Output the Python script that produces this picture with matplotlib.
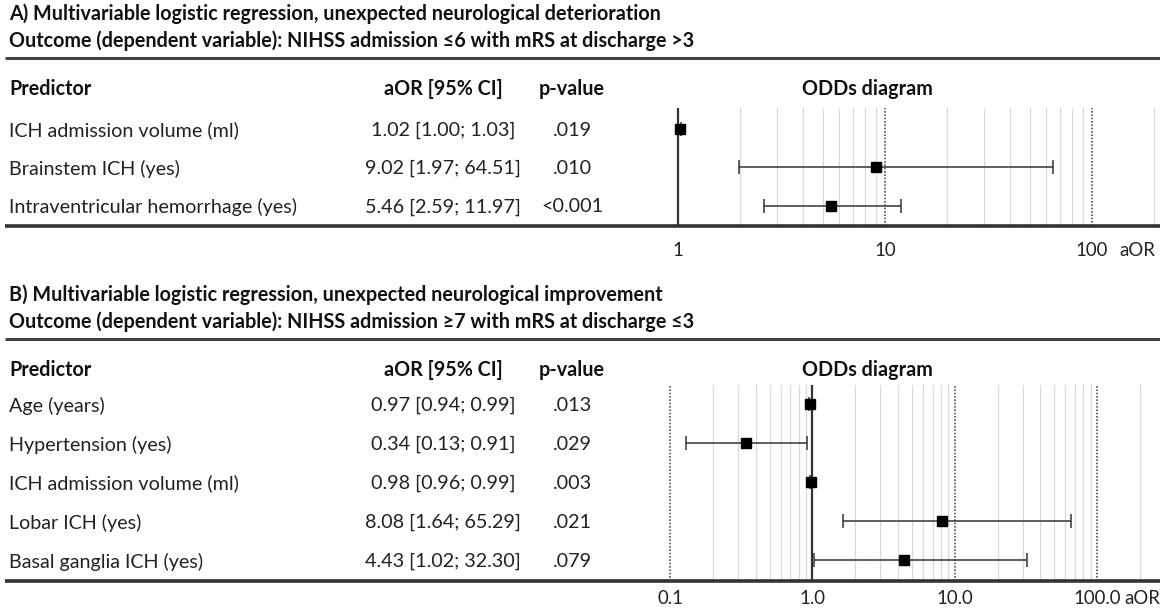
import numpy as np
import matplotlib
matplotlib.use("Agg")
import matplotlib.pyplot as plt
from matplotlib.lines import Line2D

plt.rcParams['font.family'] = ['Lato', 'DejaVu Sans']

# ---- data, panel A ----
title_a1 = "A) Multivariable logistic regression, unexpected neurological deterioration"
title_a2 = "Outcome (dependent variable): NIHSS admission \u22646 with mRS at discharge >3"
pred_a = ["ICH admission volume (ml)", "Brainstem ICH (yes)", "Intraventricular hemorrhage (yes)"]
aor_a = [1.02, 9.02, 5.46]
lo_a = [1.00, 1.97, 2.59]
hi_a = [1.03, 64.51, 11.97]
p_a = [".019", ".010", "<0.001"]
ticks_a = [1, 10, 100]
ticklab_a = ["1", "10", "100"]

# ---- data, panel B ----
title_b1 = "B) Multivariable logistic regression, unexpected neurological improvement"
title_b2 = "Outcome (dependent variable): NIHSS admission \u22657 with mRS at discharge \u22643"
pred_b = ["Age (years)", "Hypertension (yes)", "ICH admission volume (ml)",
          "Lobar ICH (yes)", "Basal ganglia ICH (yes)"]
aor_b = [0.97, 0.34, 0.98, 8.08, 4.43]
lo_b = [0.94, 0.13, 0.96, 1.64, 1.02]
hi_b = [0.99, 0.91, 0.99, 65.29, 32.30]
p_b = [".013", ".029", ".003", ".021", ".079"]
ticks_b = [0.1, 1, 10, 100]
ticklab_b = ["0.1", "1.0", "10.0", "100.0"]

W, H = 1160, 612
fig = plt.figure(figsize=(W / 100, H / 100), dpi=100)
fig.patch.set_facecolor("white")

TXT = "#222222"
HDR = "#111111"
FS = 14.2
FS_TICK = 13.4
X_LEFT = 9        # left edge of text
X_CI = 443        # centre of aOR column
X_P = 572         # centre of p-value column
X_ODDS = 867      # centre of "ODDs diagram"


def fx(x):
    return x / W


def fy(y):
    return 1 - y / H


def rule(y, lw=2.2, color="#444444"):
    fig.add_artist(Line2D([fx(5), fx(W)], [fy(y), fy(y)], transform=fig.transFigure,
                          lw=lw, color=color, solid_capstyle="butt"))


def panel(top, titles, preds, aor, lo, hi, pvals, row0, dy, ax_top, ax_bot,
          xlim, ticks, ticklabels, dotted, solid, tick_y, aor_right):
    # titles
    fig.text(fx(X_LEFT), fy(top), titles[0], fontsize=FS, fontweight="bold", color=HDR, va="center")
    fig.text(fx(X_LEFT), fy(top + 27), titles[1], fontsize=FS, fontweight="bold", color=HDR, va="center")
    rule(top + 44)
    # header
    hy = top + 75
    fig.text(fx(X_LEFT), fy(hy), "Predictor", fontsize=FS, fontweight="bold", color=HDR, va="center")
    fig.text(fx(X_CI), fy(hy), "aOR [95% CI]", fontsize=FS, fontweight="bold", color=HDR,
             va="center", ha="center")
    fig.text(fx(X_P), fy(hy), "p-value", fontsize=FS, fontweight="bold", color=HDR,
             va="center", ha="center")
    fig.text(fx(X_ODDS), fy(hy), "ODDs diagram", fontsize=FS, fontweight="bold", color=HDR,
             va="center", ha="center")
    # table rows
    for i in range(len(preds)):
        y = row0 + i * dy + 1.5
        fig.text(fx(X_LEFT), fy(y), preds[i], fontsize=FS, color=TXT, va="center")
        fig.text(fx(X_CI), fy(y), f"{aor[i]:.2f} [{lo[i]:.2f}; {hi[i]:.2f}]", fontsize=FS,
                 color=TXT, va="center", ha="center")
        fig.text(fx(X_P), fy(y), pvals[i], fontsize=FS, color=TXT, va="center", ha="center")
    rule(ax_bot, lw=2.6, color="#333333")

    # forest plot
    x0, x1 = 640, W
    ax = fig.add_axes([fx(x0), fy(ax_bot), (x1 - x0) / W, (ax_bot - ax_top) / H])
    ax.set_xscale("log")
    ax.set_xlim(*xlim)
    n = len(preds)
    ax.set_ylim((ax_bot - row0) / dy, (ax_top - row0) / dy)
    ax.axis("off")
    # light grid lines at 2..9 of each decade
    for dec in [0.1, 1, 10, 100]:
        for k in range(2, 10):
            v = dec * k
            if xlim[0] < v < xlim[1] and v >= min(ticks):
                ax.axvline(v, color="#d9d9d9", lw=0.9, zorder=1)
    for v in dotted:
        ax.axvline(v, color="#555555", lw=1.2, ls=(0, (1, 1)), zorder=2)
    ax.axvline(solid, color="#333333", lw=1.6, zorder=2)
    ys = np.arange(n)
    xerr = [np.array(aor) - np.array(lo), np.array(hi) - np.array(aor)]
    ax.errorbar(aor, ys, xerr=xerr, fmt="s", color="black", ecolor="#333333", elinewidth=1.1,
                capsize=5, capthick=1.1, markersize=7, zorder=3)
    # tick labels
    for t, lab in zip(ticks, ticklabels):
        fig.text(fx(x0 + (np.log10(t) - np.log10(xlim[0])) /
                    (np.log10(xlim[1]) - np.log10(xlim[0])) * (x1 - x0)),
                 fy(tick_y), lab, fontsize=FS_TICK, color=TXT, va="center", ha="center")
    fig.text(fx(aor_right), fy(tick_y), "aOR", fontsize=FS_TICK, color=TXT, va="center", ha="right")


panel(14, [title_a1, title_a2], pred_a, aor_a, lo_a, hi_a, p_a, 128.5, 38.5, 108, 226,
      (0.655, 213), ticks_a, ticklab_a, [10, 100], 1, 251, 1155)
panel(295, [title_b1, title_b2], pred_b, aor_b, lo_b, hi_b, p_b, 404, 39, 385, 581,
      (0.0615, 277), ticks_b, ticklab_b, [0.1, 10, 100], 1, 599, 1160)

fig.savefig("out.png", dpi=100, facecolor="white")
